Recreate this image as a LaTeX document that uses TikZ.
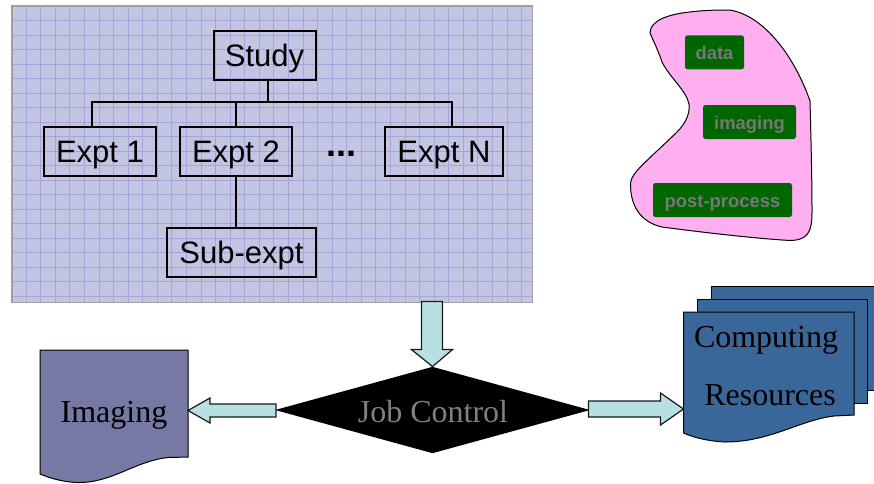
\documentclass[tikz,border=0pt]{standalone}
\usepackage{fontspec}
\setmainfont{Liberation Serif}
\setsansfont{Liberation Sans}
\usetikzlibrary{shapes.geometric}
\definecolor{panelfill}{RGB}{194,198,227}
\definecolor{gridline}{RGB}{165,165,218}
\definecolor{paneledge}{RGB}{160,160,160}
\definecolor{blobfill}{RGB}{255,174,240}
\definecolor{tagfill}{RGB}{0,102,0}
\definecolor{taggray}{RGB}{119,119,119}
\definecolor{arrowfill}{RGB}{184,224,226}
\definecolor{imgfill}{RGB}{117,121,163}
\definecolor{cmpfill}{RGB}{57,103,153}
\definecolor{jobtext}{RGB}{128,128,128}
\tikzset{
  x=1pt,y=-1pt,
  treebox/.style={draw=black,line width=2pt,inner sep=0pt,text height=25pt,text depth=2pt,
    font=\sffamily\fontsize{31}{36}\selectfont},
  treeline/.style={line width=2pt,black},
  tag/.style={fill=tagfill,rounded corners=2.5pt,inner sep=0pt,text=taggray,text height=15pt,text depth=0pt,
    font=\sffamily\bfseries\fontsize{18.4}{22}\selectfont},
  blockarrow/.style={draw=black!90,fill=arrowfill,line width=1.2pt,line join=miter},
  docshape/.style={draw=black,line width=1pt},
  serifl/.style={inner sep=0pt,anchor=base,font=\rmfamily\fontsize{32}{38}\selectfont},
}
\begin{document}
\begin{tikzpicture}
\useasboundingbox (0,0) rectangle (874,483);
\clip (0,0) rectangle (874,483);
% panel
\node[draw=paneledge,fill=panelfill,line width=1pt,inner sep=0pt,minimum width=520pt,minimum height=296pt] (panel) at (272,154) {};
\foreach \i in {0,...,34} \draw[gridline,line width=0.6pt] ({26+14.57*\i},6.5) -- ({26+14.57*\i},301.5);
\foreach \i in {0,...,19} \draw[gridline,line width=0.6pt] (12.5,{20.7+14.5*\i}) -- (531.5,{20.7+14.5*\i});
\draw[paneledge,line width=1pt] (panel.south west) rectangle (panel.north east);
% tree
\node[treebox,minimum width=102pt,minimum height=49pt] (study) at (264.5,55) {Study};
\node[treebox,minimum width=112pt,minimum height=49pt] (e1) at (100,151) {Expt 1};
\node[treebox,minimum width=112pt,minimum height=49pt] (e2) at (236,151) {Expt 2};
\node[treebox,minimum width=118pt,minimum height=49pt] (en) at (444,151) {Expt N};
\node[treebox,minimum width=149pt,minimum height=49pt] (sub) at (241.5,252) {Sub-expt};
\node[inner sep=0pt,font=\sffamily\bfseries\fontsize{36}{40}\selectfont] (dots) at (341,154) {...};
\coordinate (busy) at (0,102);
\draw[treeline] (268,0 |- study.south) -- (268,102);
\draw[treeline] (92,0 |- e1.north) -- (92,102) -- (452,102) -- (452,0 |- en.north);
\draw[treeline] (e2.north) -- (e2.north |- busy);
\draw[treeline] (e2.south) -- (e2.south |- sub.north);
% blob
\draw[fill=blobfill,line width=1pt] (650,33)
  .. controls (650,20) and (670,14) .. (690,12)
  .. controls (705,10) and (720,10) .. (730,10)
  .. controls (765,16) and (795,58) .. (810,101)
  .. controls (811,140) and (812,180) .. (812,212)
  .. controls (812,232) and (808,240) .. (790,240.5)
  .. controls (750,238) and (700,232) .. (662,227)
  .. controls (640,222) and (630,205) .. (630.5,183)
  .. controls (632,172) and (645,163) .. (677,132)
  .. controls (687,122) and (690,112) .. (689,104)
  .. controls (686,90) and (670,78) .. (662,62)
  .. controls (658,50) and (653,40) .. (650,33) -- cycle;
\node[tag,minimum width=59pt,minimum height=34pt] (data) at (714.5,52.3) {data};
\node[tag,minimum width=93pt,minimum height=34pt] (imaging) at (749.5,122) {imaging};
\node[tag,minimum width=139pt,minimum height=34pt] (post) at (722.5,200) {post-process};
% imaging document
\draw[docshape,fill=imgfill] (40,350) -- (188,350) -- (188,457) -- (168,457.5)
  .. controls (135,461) and (112,483) .. (78,482.5)
  .. controls (62,482) and (50,478) .. (40,474) -- cycle;
\node[serifl] (imgl) at (114,422) {Imaging};
\coordinate (imgport) at (188,410.5);
% computing documents
\draw[docshape,fill=cmpfill] (711,286) -- (880,286) -- (880,390) -- (711,390) -- cycle;
\draw[docshape,fill=cmpfill] (697,299) -- (867,299) -- (867,403) -- (697,403) -- cycle;
\draw[docshape,fill=cmpfill] (683.5,312) -- (854,312) -- (854,415) -- (834,416)
  .. controls (800,420) and (770,442) .. (725,442)
  .. controls (708,441) and (695,438) .. (683.5,433) -- cycle;
\node[serifl] (cmp1) at (766,347) {Computing};
\node[serifl] (cmp2) at (770,405) {Resources};
\coordinate (cmpport) at (683.5,409);
% job control
\node[diamond,fill=black,inner sep=0pt,minimum width=315pt,minimum height=86.5pt] (job) at (432.5,410) {};
\node[serifl,text=jobtext] (jobl) at (433,422) {Job Control};
% block arrows
\draw[blockarrow,shift={(job.north)}] (0,0) -- (-21,-17) -- (-11,-17) -- (-11,-65) -- (10,-65) -- (10,-17) -- (20,-17) -- cycle;
\draw[blockarrow,shift={(imgport)}] (0,0) -- (22,-12.5) -- (22,-6.5) -- (88,-6.5) -- (88,6.5) -- (22,6.5) -- (22,12.5) -- cycle;
\draw[blockarrow,shift={(cmpport)}] (0,0) -- (-23,-16) -- (-23,-8) -- (-95,-8) -- (-95,8) -- (-23,8) -- (-23,16) -- cycle;
\end{tikzpicture}
\end{document}
